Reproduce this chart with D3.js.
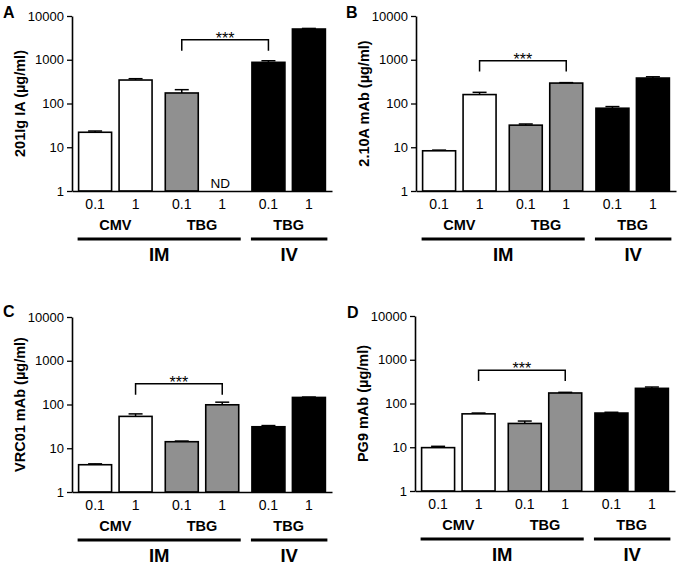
<!DOCTYPE html>
<html>
<head>
<meta charset="utf-8">
<script src="https://cdn.jsdelivr.net/npm/d3@7"></script>
<style>
  html, body { margin: 0; padding: 0; background: #fff; }
  svg { display: block; font-family: "Liberation Sans", Arial, sans-serif; }
</style>
</head>
<body>
<svg id="chart" width="682" height="564"></svg>
<script>
// ---- data ----
const groupIds = ["g1", "g2", "g3"];
const groupLabels = ["CMV", "TBG", "TBG"];
const groupRoutes = ["IM", "IM", "IV"];
const routes = ["IM", "IV"];
const doses = ["0.1", "1"];
const yTicks = [1, 10, 100, 1000, 10000];

// bar values (µg/ml), order: CMV 0.1, CMV 1, TBG 0.1, TBG 1, IV TBG 0.1, IV TBG 1
const valuesA = [22, 344, 174, null, 873, 5040];
const errTopA = [23.5, 369, 207, null, 950, 5200];
const valuesB = [8.3, 160, 32, 293, 78, 382];
const errTopB = [8.6, 180, 34, 300, 85, 408];
const valuesC = [4.2, 53.5, 14.1, 98.5, 31, 145];
const errTopC = [4.4, 61, 14.6, 113, 33, 148];
const valuesD = [9.8, 58, 35, 174, 60.5, 222];
const errTopD = [10.5, 60.5, 39.7, 180, 63, 238];

// significance brackets: [from bar, to bar, top value, leg-bottom value]
const sigA = [2, 4, 2870, 1610];
const sigB = [1, 3, 950, 541];
const sigC = [1, 3, 297, 166];
const sigD = [1, 3, 574, 328];
const sigLabel = "***";
const ndLabel = "ND";

// ---- styles / layout ----
const groupFills = ["#ffffff", "#909090", "#000000"];
const W = 260, H = 175;
const panels = [
  { letter: "A", title: "201Ig IA (µg/ml)", values: valuesA, errs: errTopA, sig: sigA, x0: 72, y0: 16, lx: 3, ly: 18 },
  { letter: "B", title: "2.10A mAb (µg/ml)", values: valuesB, errs: errTopB, sig: sigB, x0: 416, y0: 16, lx: 346, ly: 18 },
  { letter: "C", title: "VRC01 mAb (µg/ml)", values: valuesC, errs: errTopC, sig: sigC, x0: 72, y0: 317, lx: 3, ly: 317 },
  { letter: "D", title: "PG9 mAb (µg/ml)", values: valuesD, errs: errTopD, sig: sigD, x0: 415, y0: 316, lx: 347, ly: 318 }
];

const svg = d3.select("#chart");

const outer = d3.scaleBand().domain(groupIds).range([0, W]).paddingInner(0.066).paddingOuter(0.033);
const inner = d3.scaleBand().domain(doses).range([0, outer.bandwidth()]).paddingInner(0.185).paddingOuter(0.0925);
const y = d3.scaleLog().domain([1, 10000]).range([H, 0]);

function barX(i) { return outer(groupIds[Math.floor(i / 2)]) + inner(doses[i % 2]); }
function barC(i) { return barX(i) + inner.bandwidth() / 2; }

panels.forEach(p => {
  svg.append("text")
    .attr("x", p.lx).attr("y", p.ly)
    .attr("font-size", 16).attr("font-weight", "bold")
    .text(p.letter);

  const g = svg.append("g").attr("transform", `translate(${p.x0},${p.y0})`);

  // y axis
  const ya = g.append("g")
    .call(d3.axisLeft(y).tickValues(yTicks).tickFormat(d3.format("d")).tickSize(5).tickPadding(3).tickSizeOuter(0));
  ya.select(".domain").attr("stroke-width", 1.6);
  ya.selectAll(".tick line").attr("stroke-width", 1.3);
  ya.selectAll(".tick text").attr("font-size", 13).attr("font-family", "Liberation Sans, Arial, sans-serif").attr("fill", "#000");

  // y title
  g.append("text")
    .attr("transform", `translate(-47,${H / 2}) rotate(-90)`)
    .attr("text-anchor", "middle")
    .attr("font-size", 14.5).attr("font-weight", "bold")
    .text(p.title);

  // bars
  const idx = d3.range(p.values.length);
  g.selectAll("rect.bar").data(idx.filter(i => p.values[i] != null)).join("rect")
    .attr("class", "bar")
    .attr("x", i => barX(i))
    .attr("width", inner.bandwidth())
    .attr("y", i => y(p.values[i]))
    .attr("height", i => H - y(p.values[i]))
    .attr("fill", i => groupFills[Math.floor(i / 2)])
    .attr("stroke", "#000").attr("stroke-width", 1.6);

  // error bars
  const eb = idx.filter(i => p.values[i] != null);
  g.selectAll("line.err").data(eb).join("line")
    .attr("class", "err")
    .attr("x1", i => barC(i)).attr("x2", i => barC(i))
    .attr("y1", i => y(p.values[i])).attr("y2", i => y(p.errs[i]))
    .attr("stroke", "#000").attr("stroke-width", 1.5);
  g.selectAll("line.cap").data(eb).join("line")
    .attr("class", "cap")
    .attr("x1", i => barC(i) - 7).attr("x2", i => barC(i) + 7)
    .attr("y1", i => y(p.errs[i])).attr("y2", i => y(p.errs[i]))
    .attr("stroke", "#000").attr("stroke-width", 1.5);

  // ND labels
  g.selectAll("text.nd").data(idx.filter(i => p.values[i] == null)).join("text")
    .attr("class", "nd")
    .attr("x", i => barC(i) - 2).attr("y", H - 3)
    .attr("text-anchor", "middle").attr("font-size", 13.5)
    .text(ndLabel);

  // x axis line
  const xa = g.append("g").attr("transform", `translate(0,${H})`)
    .call(d3.axisBottom(d3.scaleLinear().range([0, W])).tickValues([]).tickSizeOuter(0));
  xa.select(".domain").attr("stroke-width", 1.6);

  // dose labels
  g.selectAll("text.dose").data(idx).join("text")
    .attr("class", "dose")
    .attr("x", i => barC(i)).attr("y", H + 17.5)
    .attr("text-anchor", "middle").attr("font-size", 14)
    .text(i => doses[i % 2]);

  // vector labels
  g.selectAll("text.vec").data(groupIds).join("text")
    .attr("class", "vec")
    .attr("x", (d) => outer(d) + outer.bandwidth() / 2)
    .attr("y", H + 39)
    .attr("text-anchor", "middle").attr("font-size", 14.5).attr("font-weight", "bold")
    .text((d, k) => groupLabels[k]);

  // route lines + labels
  routes.forEach(r => {
    const ks = d3.range(groupIds.length).filter(k => groupRoutes[k] === r);
    const first = ks[0] * 2, last = ks[ks.length - 1] * 2 + 1;
    const xl = barX(first) - 1, xr = barX(last) + inner.bandwidth() + 2;
    g.append("line")
      .attr("x1", xl).attr("x2", xr)
      .attr("y1", H + 48).attr("y2", H + 48)
      .attr("stroke", "#000").attr("stroke-width", 3);
    g.append("text")
      .attr("x", (xl + xr) / 2).attr("y", H + 69.5)
      .attr("text-anchor", "middle").attr("font-size", 18.5).attr("font-weight", "bold")
      .text(r);
  });

  // significance bracket
  const [a, b, top, bot] = p.sig;
  const xa1 = barC(a), xb1 = barC(b);
  g.append("path")
    .attr("d", `M${xa1},${y(bot)}V${y(top)}H${xb1}V${y(bot)}`)
    .attr("fill", "none").attr("stroke", "#000").attr("stroke-width", 1.5);
  g.append("text")
    .attr("x", (xa1 + xb1) / 2).attr("y", y(top) + 4)
    .attr("text-anchor", "middle").attr("font-size", 16)
    .text(sigLabel);
});
</script>
</body>
</html>
